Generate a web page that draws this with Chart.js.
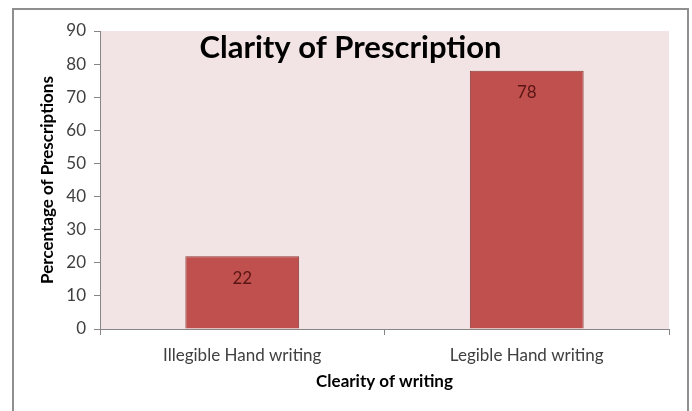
<!DOCTYPE html>
<html>
<head>
<meta charset="utf-8">
<script src="https://cdn.jsdelivr.net/npm/chart.js@4"></script>
<style>
  html, body { margin: 0; padding: 0; background: #ffffff; }
  #wrap { width: 692px; height: 411px; }
</style>
</head>
<body>
<div id="wrap"><canvas id="grafica"></canvas></div>
<script>
// datos
const categorias = ['Illegible Hand writing', 'Legible Hand writing'];
const porcentajes = [22, 78];
const ticksY = [0, 10, 20, 30, 40, 50, 60, 70, 80, 90];

const COLORES = {
    barra: '#c0504d',
    borde: '#8e3b39',
    fondo: '#f2e4e4',
    eje: '#868686',
    texto: '#404040',
    etiqueta: '#5a1614',
    marco: '#8f8f8f'
};

const FUENTE = 'Lato, "Open Sans", sans-serif';

// marco exterior + fondo del area de trazado
const fondoPlugin = {
    id: 'fondo',
    beforeDraw(chart) {
        const { ctx, chartArea } = chart;
        ctx.save();
        ctx.fillStyle = COLORES.fondo;
        ctx.fillRect(chartArea.left, chartArea.top, chartArea.right - chartArea.left, chartArea.bottom - chartArea.top);
        ctx.strokeStyle = COLORES.marco;
        ctx.lineWidth = 2;
        ctx.strokeRect(13, 9, chart.width - 17, chart.height + 10);
        ctx.restore();
    }
};

// titulo superpuesto y etiquetas de valor
const textosPlugin = {
    id: 'textos',
    afterDraw(chart) {
        const { ctx, chartArea } = chart;
        ctx.save();
        ctx.fillStyle = '#000000';
        ctx.font = 'bold 31px ' + FUENTE;
        ctx.textAlign = 'center';
        ctx.textBaseline = 'middle';
        ctx.fillText('Clarity of Prescription', (13 + chart.width - 4) / 2, chartArea.top + 17);

        const meta = chart.getDatasetMeta(0);
        ctx.font = '17px ' + FUENTE;
        ctx.fillStyle = COLORES.etiqueta;
        meta.data.forEach((bar, i) => {
            ctx.fillText(String(porcentajes[i]), bar.x, bar.y + 22);
        });
        ctx.restore();
    }
};

const ctx = document.getElementById('grafica').getContext('2d');
new Chart(ctx, {
    type: 'bar',
    data: {
        labels: categorias,
        datasets: [{
            data: porcentajes,
            backgroundColor: COLORES.barra,
            borderColor: COLORES.borde,
            borderWidth: 1,
            barPercentage: 0.4,
            categoryPercentage: 1
        }]
    },
    options: {
        responsive: true,
        maintainAspectRatio: false,
        animation: false,
        layout: { padding: { left: 30, top: 31, right: 23, bottom: 0 } },
        scales: {
            x: {
                afterFit: s => { s.height = 82; },
                grid: { offset: true, drawOnChartArea: false, tickLength: 6, color: COLORES.eje },
                border: { color: COLORES.eje },
                ticks: { color: COLORES.texto, font: { family: FUENTE, size: 17 }, padding: 10 },
                title: {
                    display: true,
                    text: 'Clearity of writing',
                    color: '#000000',
                    font: { family: FUENTE, size: 17, weight: 'bold' },
                    padding: { top: 0, bottom: 19 }
                }
            },
            y: {
                min: 0,
                max: 90,
                afterFit: s => { s.width = 70; },
                afterBuildTicks: s => { s.ticks = ticksY.map(v => ({ value: v })); },
                grid: { drawOnChartArea: false, tickLength: 6, color: COLORES.eje },
                border: { color: COLORES.eje },
                ticks: { color: COLORES.texto, font: { family: FUENTE, size: 17 }, padding: 8 },
                title: {
                    display: true,
                    text: 'Percentage of Prescriptions',
                    color: '#000000',
                    font: { family: FUENTE, size: 17, weight: 'bold' },
                    padding: { top: 7, bottom: 0 }
                }
            }
        },
        plugins: {
            legend: { display: false },
            title: { display: false },
            tooltip: { enabled: false }
        }
    },
    plugins: [fondoPlugin, textosPlugin]
});
</script>
</body>
</html>
